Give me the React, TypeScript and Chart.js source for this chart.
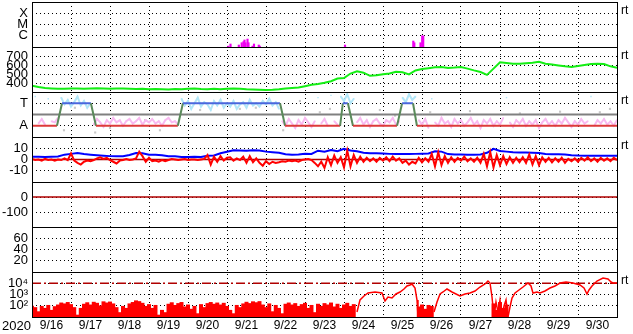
import React, { useEffect, useRef } from 'react';
import { Chart, registerables } from 'chart.js';

Chart.register(...registerables);

const FONT = '"Liberation Sans", Arial, Helvetica, sans-serif';

// ---------- x axis ----------
const DAY_LABELS = ['9/16', '9/17', '9/18', '9/19', '9/20', '9/21', '9/22', '9/23', '9/24', '9/25', '9/26', '9/27', '9/28', '9/29', '9/30'];
const YEAR_LABEL = '2020';
const RIGHT_LABEL = 'rt';

// ---------- panel 1: X-ray flux (bars) ----------
const xrayDays = [5.033, 5.09, 5.303, 5.377, 5.423, 5.449, 5.474, 5.526, 5.551, 5.654, 5.692, 5.815, 5.841, 8.026, 9.777, 9.803, 9.962, 10.005, 10.031];
const xrayFlux = [1.2e-7, 1.85e-7, 1.5e-7, 2.4e-7, 3e-7, 4.2e-7, 2.4e-7, 5.1e-7, 2.4e-7, 1.2e-7, 1.85e-7, 1.5e-7, 1.2e-7, 1.5e-7, 3.4e-7, 2.4e-7, 2.4e-7, 1.0e-6, 9.5e-7];
const xrayRange = [1e-7, 1e-3];
const xrayTickValues = [1e-6, 1e-5, 1e-4];
const xrayTickLabels = ['C', 'M', 'X'];

// ---------- panel 2: solar wind speed (4 h samples) ----------
const SPEED_STEP = 1 / 6;
const speedVals = [
  370, 355, 345, 340, 335, 335, 340, 338, 335, 340,
  342, 338, 335, 340, 338, 335, 332, 335, 330, 333,
  330, 328, 332, 330, 335, 338, 332, 330, 335, 330,
  335, 340, 335, 330, 328, 325, 322, 325, 330, 338,
  345, 350, 365, 380, 388, 402, 420, 450, 455, 505,
  530, 515, 480, 485, 497, 505, 525, 520, 495, 540,
  555, 565, 575, 578, 568, 572, 578, 560, 540, 522,
  490, 560, 630, 622, 615, 615, 620, 625, 635, 615,
  605, 595, 585, 578, 590, 600, 610, 615, 610, 585,
  570,
];
const speedRange = [300, 800];
const speedTicks = [400, 500, 600, 700];

// ---------- panel 3: sector polarity (T / A) ----------
const sectorDays = [0, 0.64, 0.77, 1.51, 1.64, 3.74, 3.87, 6.36, 6.49, 7.9, 7.97, 8.1, 8.23, 9.36, 9.49, 9.77, 9.87, 15];
const sectorVals = [-1, -1, 1, 1, -1, -1, 1, 1, -1, -1, 1, 1, -1, -1, 1, 1, -1, -1];
const PHI_STEP = 1 / 12;
const phiVals = [
  -0.5, 1.6, -0.8, -0.4, -0.9, 1.4, -0.6, -0.7,
  -0.3,
  1.5, 0.9, 1.3, 0.7, 1.1, 1.6, 0.8, 1.2, 0.6, 1.0,
  -0.9, -0.4, -0.7, -1.1, -0.5, -0.8, -0.3, -0.7, -0.5, -1.0, -0.6, -0.4, -0.8, -0.6, -0.3, -0.9, -0.5, -0.7, -0.4, -0.8, -0.6, -1.0, -0.5, -0.3, -0.7, -0.6, -0.9,
  1.4, 0.8, 1.2, 0.5, 1.0, 1.5, 0.7, 1.1, 0.9, 0.4, 1.2, 0.8, 1.3, 0.6, 1.0, 0.7, 1.2, 0.5, 0.9, 1.1, 0.6, 1.3, 0.8, 1.0, 0.7, 1.2, 0.9, 1.4, 0.8, 1.1, 0.5,
  -0.6, -1.0, -0.4, -0.8, -1.2, -0.5, -0.9, -0.3, -0.7, -1.1, -0.6, 1.5, -0.8, -0.4, -1.0, 1.7, -0.6, -0.9,
  1.6, 1.2, 1.8, 1.0, 1.4,
  -0.7, -0.3, -0.9, -0.5, -1.1, -0.6, -0.4, -0.8, -1.0, -0.5, -0.7, -0.3, -0.9, -0.6,
  1.5, 1.1, 1.8, 1.3, 1.6,
  -0.5, -0.9, -0.4, -1.2, 1.4, -0.7, -1.0, -0.3, -0.8, -0.6, -1.1, -0.4, -0.8, -0.5, -1.0, -0.7, -0.3, -0.9, -0.6, -1.2,
  -0.5, -0.8, -0.4, -1.0, -0.6, -0.9, -0.3, 1.5, -0.7, -1.1, -0.5, -0.8, -0.4, -1.0, -0.6, -0.9, -0.5, -1.2, -0.7, -0.4,
  -0.9, -0.6, -1.0, -0.5, -0.8, -0.3, -0.7, -1.1, -0.6, -0.9, -0.4, -0.8, -0.6, 1.6, -1.0, -0.5, -0.8, -0.4, -0.9, -0.6,
  -1.0, -0.5,
];
const phiOtherDays = [0.82, 1.1, 1.62, 2.0, 2.9, 3.28, 4.31, 5.33, 5.74, 6.44, 6.87, 7.38, 7.64, 8.92, 9.31, 10.21, 11.23, 12.51, 13.54, 14.56, 14.82];
const phiOtherVals = [-1.4, 0.6, -1.6, -1.2, -0.5, -1.4, 0.4, 0.5, 0.6, -1.4, 1.2, 0.2, 0.5, 0.4, -0.1, 0.2, 0.3, 0.1, 0.25, 0.2, 0.5];
const sectorRange = [-2, 2];
const sectorTickValues = [-1, 1];
const sectorTickLabels = ['A', 'T'];

// ---------- panel 4: IMF Bt / Bz ----------
const BT_STEP = 1 / 6;
const btVals = [
  2.5, 2.5, 2.3, 2.5, 2.6, 4.3, 5.0, 5.8, 4.8, 4.3,
  3.8, 3.4, 3.0, 2.8, 2.8, 4.0, 5.8, 5.5, 4.3, 4.3,
  3.8, 2.8, 2.8, 2.2, 2.2, 2.4, 2.2, 3.4, 3.6, 5.5,
  6.8, 8.2, 8.0, 7.8, 8.2, 8.0, 7.0, 6.5, 6.0, 4.6,
  4.3, 4.5, 5.2, 5.0, 7.8, 7.0, 8.5, 7.3, 9.5, 8.0,
  7.3, 6.0, 5.6, 5.5, 5.4, 5.0, 4.9, 4.8, 4.9, 5.0,
  5.2, 5.3, 7.3, 7.0, 4.8, 4.5, 4.4, 4.3, 4.3, 4.4,
  6.0, 9.5, 7.5, 7.0, 6.5, 6.2, 6.2, 6.0, 5.8, 4.8,
  4.6, 4.6, 4.5, 3.8, 3.5, 3.4, 3.4, 3.4, 3.3, 3.4,
  3.4,
];
const BZ_STEP = 1 / 12;
const bzVals = [
  0.5, -0.5, 0, -1, 0.5, -0.5, 0, -1, 0, -0.5,
  1, -0.5, 5.5, -1, -3, -4.5, -2, -1, -1.5, -0.5,
  1, 2, 0.5, 1.5, -0.5, -2, -3.5, -1, -0.5, 0.5,
  -0.5, 0, 1, 7, 3, -2, 1.5, -1.5, -1, -2,
  -0.5, -1.5, -0.5, 0.5, 0, -0.5, 0, 0.5, -0.5, 0,
  0, -0.5, 0, 0.5, 4, -4.5, 2.5, -2, 3, -1,
  1.5, 2, -1, 1, -0.5, 2.5, -3, 3, -2.5, 1,
  -3, -5.5, -1.5, -4, -2, -3, -2.5, -1.5, -2, -1,
  -1.5, -1, -2, -0.5, 0, 0.5, -0.5, -3, -6, -2,
  -7.5, 2, -5, 3.5, -3, 2, -7, 8, -6, 4,
  -3, 2.5, -2, 1.5, -1.5, 1, -2, 1.5, -1, 2,
  -1.5, 2.5, -1, 1, -3, -1, -4.5, -2, -3.5, 1.5,
  -2.5, 1, -2, 5, -6, 6.5, -5, 3, -3, 2,
  -2, 1.5, -1, 2.5, -1.5, 1, -2, 1.5, -3, 5,
  -6, 6.5, -7, 4, -5, 3, -4, 2, -3, 1.5,
  -2.5, 2, -3, 4.5, -4.5, 3, -5, 2, -2, 1.5,
  -2.5, 1, -2, 1.5, -3, 0.5, -1.5, 1, -2, 1.5,
  -1, 2, -1.5, 1, -2, 1.5, -1, 1, -1.5, 1.5,
  -0.5,
];
const imfRange = [-20, 20];
const imfTicks = [-10, 0, 10];

// ---------- panel 5 / 6 ----------
const dstRange = [-200, 100];
const dstTicks = [-100, 0];
const panel6Range = [0, 80];
const panel6Ticks = [20, 40, 60];

// ---------- panel 7: electron flux ----------
const FLUX_STEP = 1 / 12;
const fluxQuietVals = [
  95, 70, 30, 90, 60, 110, 40, 85, 120, 180,
  150, 200, 130, 70, 15, 60, 140, 190, 120, 210,
  170, 100, 230, 180, 220, 150, 70, 25, 90, 60,
  150, 200, 280, 240, 170, 90, 130, 60, 110, 15,
  40, 25, 140, 190, 110, 160, 200, 80, 120, 50,
  90, 20, 130, 70, 160, 200, 140, 180, 120, 170,
  90, 40, 20, 110, 70, 150, 210, 160, 230, 190,
  240, 120, 70, 150, 30, 110, 60, 20, 140, 180,
  120, 160, 90, 130, 170, 60, 110, 25, 140, 90,
  160, 120, 180, 80, 140, 60, 120, 170, 90, 130,
];
const fluxDropDays = [9.917, 10.0, 10.083, 10.167, 10.25, 11.833, 11.917, 12.0, 12.083, 12.167];
const fluxDropVals = [80, 120, 50, 110, 90, 150, 40, 200, 60, 120];
const fluxLineDays = [
  8.333, 8.41, 8.513, 8.615, 8.795, 8.974, 9.051, 9.128, 9.231, 9.333, 9.436, 9.538, 9.615, 9.692, 9.744, 9.821, 9.872, 9.897,
  10.1,
  10.308, 10.385, 10.462, 10.538, 10.641, 10.769, 10.872, 10.974, 11.103, 11.231,
  11.359, 11.487, 11.615, 11.692, 11.744, 11.795, 11.846, 11.897, 11.949, 12.0,
  12.051, 12.103, 12.154, 12.205, 12.256, 12.308, 12.385, 12.487, 12.59, 12.718,
  12.795, 12.846, 12.949, 13.026, 13.154, 13.282, 13.41, 13.538, 13.692, 13.872,
  14.051, 14.154, 14.231, 14.282, 14.359, 14.487, 14.641, 14.769, 14.846, 14.897,
  15.0,
];
const fluxLineVals = [
  28, 324, 735, 1360, 1670, 1360, 264, 600, 489, 1110, 1670, 3080, 5700, 6990, 8580, 3780, 324, 12,
  null,
  28, 215, 1110, 1670, 3080, 1670, 1110, 735, 1110, 1360,
  2050, 4640, 8580, 15800, 10500, 600, 10, 215, 28, 324,
  10, 95, 324, 10, 77, 489, 1360, 2510, 4640, 10500,
  5700, 1360, 1670, 1360, 2050, 3780, 5700, 10500, 12900, 10500,
  6990, 3780, 1110, 2510, 5700, 15800, 29300, 23900, 12900, 10500,
  10500,
];
const fluxThreshold = 1e4;
const fluxRange = [10, 1e5];
const fluxTickValues = [1e2, 1e3, 1e4];
const fluxTickLabels = ['10²', '10³', '10⁴'];

const REF_DAYS = [0, 15];

// ---------- helpers ----------
const series = (vals: (number | null)[], step: number) => vals.map((v, i) => ({ x: i * step, y: v }));
const pairs = (days: number[], vals: (number | null)[]) => days.map((d, i) => ({ x: d, y: vals[i] }));
const refLine = (value: number) => REF_DAYS.map((d) => ({ x: d, y: value }));

const PANEL_IDS = ['p1', 'p2', 'p3', 'p4', 'p5', 'p6', 'p7'];
const RT_PANELS = ['p1', 'p2', 'p3', 'p4', 'p7'];
const tickFont = { family: FONT, size: 13 };
const dateFont = { family: FONT, size: 12 };

const noPadding = (scale: any) => {
  scale.paddingTop = 0;
  scale.paddingBottom = 0;
  scale.paddingLeft = 0;
  scale.paddingRight = 0;
};

function panelAxis(type: string, range: number[], values: number[], labels?: string[]) {
  return {
    type,
    min: range[0],
    max: range[1],
    bounds: 'data',
    position: 'left',
    stack: 'panels',
    stackWeight: 1,
    offset: false,
    afterFit: (scale: any) => { scale.width = 32; noPadding(scale); },
    afterBuildTicks: (scale: any) => { scale.ticks = values.map((value) => ({ value })); },
    ticks: {
      autoSkip: false,
      padding: 4,
      color: '#000',
      font: tickFont,
      callback: (_v: any, i: number) => (labels ? labels[i] : String(values[i])),
    },
    grid: { color: '#000', lineWidth: 1, drawTicks: false },
    border: { display: true, color: '#000', width: 1, dash: [1, 3] },
  };
}

const xTickValues = DAY_LABELS.flatMap((_, i) => (i === 0 ? [0.5] : [i, i + 0.5]));

const framePlugin = {
  id: 'panelFrame',
  afterDraw(chart: any) {
    const { ctx, chartArea } = chart;
    ctx.save();
    ctx.strokeStyle = '#000';
    ctx.lineWidth = 1;
    ctx.setLineDash([]);
    ctx.beginPath();
    PANEL_IDS.forEach((id) => {
      const s = chart.scales[id];
      [s.top, s.bottom].forEach((y: number) => {
        const yy = Math.round(y) + 0.5;
        ctx.moveTo(chartArea.left, yy);
        ctx.lineTo(chartArea.right + 1, yy);
      });
    });
    const xl = Math.round(chartArea.left) + 0.5;
    const xr = Math.round(chartArea.right) + 0.5;
    ctx.moveTo(xl, chartArea.top);
    ctx.lineTo(xl, chartArea.bottom + 1);
    ctx.moveTo(xr, chartArea.top);
    ctx.lineTo(xr, chartArea.bottom + 1);
    ctx.stroke();
    ctx.fillStyle = '#000';
    ctx.font = `12px ${FONT}`;
    ctx.textBaseline = 'middle';
    ctx.textAlign = 'left';
    RT_PANELS.forEach((id) => ctx.fillText(RIGHT_LABEL, chartArea.right + 4, chart.scales[id].top + 9));
    ctx.font = `13px ${FONT}`;
    ctx.fillText(YEAR_LABEL, 2, chartArea.bottom + 9);
    ctx.restore();
  },
};

export default function App() {
  const ref = useRef<HTMLCanvasElement>(null);

  useEffect(() => {
    if (!ref.current) return;
    Chart.defaults.font.family = FONT;

    const cyan = series(phiVals.map((v) => (v > 0 ? v : null)), PHI_STEP);
    const pink = series(phiVals.map((v) => (v < 0 ? v : null)), PHI_STEP);

    const datasets: any[] = [
      // panel 1
      {
        type: 'bar', label: 'X-ray', yAxisID: 'p1', xAxisID: 'x',
        data: xrayDays.map((d, i) => ({ x: d, y: [xrayRange[0], xrayFlux[i]] })),
        backgroundColor: '#f000f0', borderWidth: 0, barThickness: 1.5, grouped: false,
      },
      // panel 2
      {
        type: 'line', label: 'Speed', yAxisID: 'p2', xAxisID: 'x',
        data: series(speedVals, SPEED_STEP),
        borderColor: '#14ee14', borderWidth: 2, pointRadius: 0, tension: 0,
      },
      // panel 3
      {
        type: 'line', label: 'Sector', yAxisID: 'p3', xAxisID: 'x',
        data: pairs(sectorDays, sectorVals),
        borderColor: '#5a8a5a', borderWidth: 2, pointRadius: 0,
        segment: {
          borderColor: (c: any) => (c.p0.parsed.y !== c.p1.parsed.y ? '#5a8a5a' : c.p0.parsed.y > 0 ? '#4a66dd' : '#dd3a3a'),
        },
      },
      {
        type: 'line', label: 'Mid', yAxisID: 'p3', xAxisID: 'x',
        data: refLine(0), borderColor: '#808080', borderWidth: 2, pointRadius: 0,
      },
      {
        type: 'line', label: 'Toward', yAxisID: 'p3', xAxisID: 'x', data: cyan,
        borderColor: '#b2e6f8', backgroundColor: '#b2e6f8', borderWidth: 2,
        pointRadius: 1, pointStyle: 'rect', pointBorderWidth: 0,
      },
      {
        type: 'line', label: 'Away', yAxisID: 'p3', xAxisID: 'x', data: pink,
        borderColor: '#f8baf0', backgroundColor: '#f8baf0', borderWidth: 2,
        pointRadius: 1, pointStyle: 'rect', pointBorderWidth: 0,
      },
      {
        type: 'line', label: 'Other', yAxisID: 'p3', xAxisID: 'x', data: pairs(phiOtherDays, phiOtherVals),
        showLine: false, backgroundColor: '#c8c8c8', borderColor: '#c8c8c8',
        pointRadius: 1.5, pointStyle: 'rect', pointBorderWidth: 0,
      },
      // panel 4
      {
        type: 'line', label: 'Bz', yAxisID: 'p4', xAxisID: 'x', data: series(bzVals, BZ_STEP),
        borderColor: '#ff0000', borderWidth: 2, pointRadius: 0,
      },
      {
        type: 'line', label: 'Bt', yAxisID: 'p4', xAxisID: 'x', data: series(btVals, BT_STEP),
        borderColor: '#0000ff', borderWidth: 2, pointRadius: 0,
      },
      {
        type: 'line', label: 'Zero4', yAxisID: 'p4', xAxisID: 'x', data: refLine(0),
        borderColor: '#b00000', borderWidth: 1.5, pointRadius: 0,
      },
      // panel 5
      {
        type: 'line', label: 'Zero5', yAxisID: 'p5', xAxisID: 'x', data: refLine(0),
        borderColor: '#b00000', borderWidth: 1.5, pointRadius: 0,
      },
      // panel 7
      {
        type: 'line', label: 'Flux', yAxisID: 'p7', xAxisID: 'x', data: pairs(fluxLineDays, fluxLineVals),
        borderColor: '#ff0000', borderWidth: 1.5, pointRadius: 0,
      },
      {
        type: 'line', label: 'Threshold', yAxisID: 'p7', xAxisID: 'x', data: refLine(fluxThreshold),
        borderColor: '#b00000', borderWidth: 1.5, borderDash: [9, 3, 2, 3], pointRadius: 0,
      },
      {
        type: 'bar', label: 'FluxQuiet', yAxisID: 'p7', xAxisID: 'x',
        data: fluxQuietVals.map((v, i) => ({ x: i * FLUX_STEP, y: [fluxRange[0], v] })),
        backgroundColor: '#ff0000', borderWidth: 0, barThickness: 3.3, grouped: false,
      },
      {
        type: 'bar', label: 'FluxDrop', yAxisID: 'p7', xAxisID: 'x',
        data: fluxDropDays.map((d, i) => ({ x: d, y: [fluxRange[0], fluxDropVals[i]] })),
        backgroundColor: '#ff0000', borderWidth: 0, barThickness: 3.3, grouped: false,
      },
    ];

    const chart = new Chart(ref.current, {
      type: 'line',
      data: { datasets },
      options: {
        animation: false,
        responsive: false,
        maintainAspectRatio: false,
        events: [],
        layout: { padding: { left: 0, right: 16, top: 2, bottom: 0 }, autoPadding: false },
        plugins: { legend: { display: false }, tooltip: { enabled: false }, title: { display: false } },
        scales: {
          x: {
            type: 'linear', min: 0, max: 15, bounds: 'data', position: 'bottom', offset: false,
            afterFit: (s: any) => { s.height = 17; noPadding(s); },
            afterBuildTicks: (s: any) => { s.ticks = xTickValues.map((value) => ({ value })); },
            ticks: {
              autoSkip: false, maxRotation: 0, padding: 1, color: '#000', font: dateFont,
              callback: (v: any) => (Number.isInteger(v) ? '' : DAY_LABELS[Math.floor(v)]),
            },
            grid: {
              offset: false, drawTicks: false, lineWidth: 1,
              color: (c: any) => (c.tick && Number.isInteger(c.tick.value) ? '#000' : 'rgba(0,0,0,0)'),
            },
            border: { display: false, dash: [1, 3] },
          },
          p7: panelAxis('logarithmic', fluxRange, fluxTickValues, fluxTickLabels),
          p6: panelAxis('linear', panel6Range, panel6Ticks),
          p5: panelAxis('linear', dstRange, dstTicks),
          p4: panelAxis('linear', imfRange, imfTicks),
          p3: panelAxis('linear', sectorRange, sectorTickValues, sectorTickLabels),
          p2: panelAxis('linear', speedRange, speedTicks),
          p1: panelAxis('logarithmic', xrayRange, xrayTickValues, xrayTickLabels),
        } as any,
      },
      plugins: [framePlugin],
    } as any);

    return () => chart.destroy();
  }, []);

  return (
    <div style={{ position: 'absolute', left: 0, top: 0, width: 633, height: 334, background: '#fff' }}>
      <canvas ref={ref} width={633} height={334} style={{ display: 'block', width: 633, height: 334 }} />
    </div>
  );
}
